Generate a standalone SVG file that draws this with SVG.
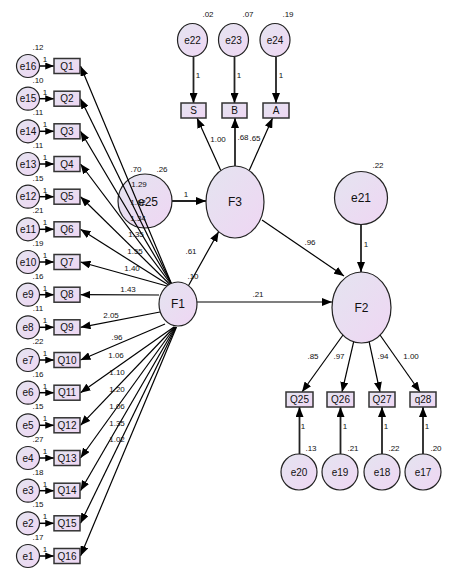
<svg xmlns="http://www.w3.org/2000/svg" width="458" height="577" viewBox="0 0 458 577">
<defs>
<linearGradient id="g" x1="0" y1="0" x2="1" y2="1">
<stop offset="0" stop-color="#e4e4f0"/>
<stop offset="1" stop-color="#efd6f3"/>
</linearGradient>
<marker id="ah" viewBox="0 0 10 8" refX="10" refY="4" markerWidth="10" markerHeight="8" markerUnits="userSpaceOnUse" orient="auto">
<path d="M0,0 L10,4 L0,8 z" fill="#000"/>
</marker>
<marker id="as" viewBox="0 0 10 8" refX="10" refY="4" markerWidth="9" markerHeight="7" markerUnits="userSpaceOnUse" orient="auto">
<path d="M0,0 L10,4 L0,8 z" fill="#000"/>
</marker>
</defs>
<style>
.n{fill:url(#g);stroke:#222;stroke-width:1.2}
.b{fill:url(#g);stroke:#333;stroke-width:1.5}
.t{font-family:"Liberation Sans",Arial,sans-serif;font-size:10px;fill:#111;text-anchor:middle}
.tf{font-family:"Liberation Sans",Arial,sans-serif;font-size:12px;fill:#111;text-anchor:middle}
.l{font-family:"Liberation Sans",Arial,sans-serif;font-size:8px;fill:#111;text-anchor:middle}
.c{fill:none;stroke:#000;stroke-width:1.2;marker-end:url(#ah)}
.ct{fill:none;stroke:#222;stroke-width:1.8;marker-end:url(#ah)}
.cs{fill:none;stroke:#000;stroke-width:1.5;marker-end:url(#as)}
</style>
<rect x="0" y="0" width="458" height="577" fill="#fff"/>

<g id="e25"><circle class="n" cx="145" cy="201" r="27"/><text class="tf" x="148" y="206">e25</text></g>

<g id="connectors">
<path class="c" d="M172,285 L80.5,66"/>
<path class="c" d="M172,285 L80.5,98.7"/>
<path class="c" d="M172,285 L80.5,131.3"/>
<path class="c" d="M172,285.5 L80.5,164"/>
<path class="c" d="M171.5,286 L80.5,196.7"/>
<path class="c" d="M171,286.5 L80.5,229.3"/>
<path class="c" d="M170.5,287 L80.5,262"/>
<path class="c" d="M159,295 L80.5,294.7"/>
<path class="c" d="M160,312 L80.5,327.3"/>
<path class="c" d="M165,324 L80.5,360"/>
<path class="c" d="M174,327 L80.5,392.7"/>
<path class="c" d="M174.5,327 L80.5,425.3"/>
<path class="c" d="M175,327 L80.5,458"/>
<path class="c" d="M175.5,327 L80.5,490.7"/>
<path class="c" d="M176,327 L80.5,523.3"/>
<path class="c" d="M176.5,327 L80.5,556"/>
<path class="cs" d="M39.5,66 L54,66"/>
<path class="cs" d="M39.5,98.7 L54,98.7"/>
<path class="cs" d="M39.5,131.3 L54,131.3"/>
<path class="cs" d="M39.5,164 L54,164"/>
<path class="cs" d="M39.5,196.7 L54,196.7"/>
<path class="cs" d="M39.5,229.3 L54,229.3"/>
<path class="cs" d="M39.5,262 L54,262"/>
<path class="cs" d="M39.5,294.7 L54,294.7"/>
<path class="cs" d="M39.5,327.3 L54,327.3"/>
<path class="cs" d="M39.5,360 L54,360"/>
<path class="cs" d="M39.5,392.7 L54,392.7"/>
<path class="cs" d="M39.5,425.3 L54,425.3"/>
<path class="cs" d="M39.5,458 L54,458"/>
<path class="cs" d="M39.5,490.7 L54,490.7"/>
<path class="cs" d="M39.5,523.3 L54,523.3"/>
<path class="cs" d="M39.5,556 L54,556"/>
<path class="ct" d="M172,201 L206,201"/>
<path class="c" d="M188,286.5 L218.6,231.7"/>
<path class="c" d="M220.8,170.6 L197,118"/>
<path class="ct" d="M235,166 L235,118"/>
<path class="c" d="M249.2,170.6 L272.6,118"/>
<path class="ct" d="M193.5,57 L193.5,103"/>
<path class="ct" d="M234.5,57 L234.5,103"/>
<path class="ct" d="M276,57 L276,103"/>
<path class="c" d="M262,220 L344,276"/>
<path class="c" d="M197,302 L332,302"/>
<path class="ct" d="M361,225 L361,272"/>
<path class="c" d="M343,335 L302,392"/>
<path class="c" d="M353.7,341.7 L342,392"/>
<path class="c" d="M369.1,341.7 L380,392"/>
<path class="c" d="M380,335 L420,392"/>
<path class="ct" d="M299.5,454 L299.5,407"/>
<path class="ct" d="M340.5,454 L340.5,407"/>
<path class="ct" d="M382,454 L382,407"/>
<path class="ct" d="M423,454 L423,407"/>
</g>

<g id="F1"><ellipse class="n" cx="178" cy="304" rx="19" ry="22"/><text class="tf" x="178" y="308">F1</text></g>
<g id="F3"><ellipse class="n" cx="235" cy="202" rx="29" ry="36"/><text class="tf" x="235" y="206">F3</text></g>
<g id="F2"><ellipse class="n" cx="361.5" cy="307.5" rx="29.5" ry="35.5"/><text class="tf" x="361.5" y="312">F2</text></g>
<g id="e21"><circle class="n" cx="361" cy="198" r="26.5"/><text class="tf" x="361" y="202">e21</text></g>
<g id="e22"><ellipse class="n" cx="192.5" cy="40" rx="15" ry="16.5"/><text class="t" x="192.5" y="44">e22</text></g>
<g id="e23"><ellipse class="n" cx="233.5" cy="40" rx="15" ry="16.5"/><text class="t" x="233.5" y="44">e23</text></g>
<g id="e24"><ellipse class="n" cx="275" cy="40" rx="15" ry="16.5"/><text class="t" x="275" y="44">e24</text></g>
<g id="S"><rect class="b" x="181" y="103" width="25" height="15"/><text class="t" x="193.5" y="114">S</text></g>
<g id="B"><rect class="b" x="222" y="103" width="25" height="15"/><text class="t" x="234.5" y="114">B</text></g>
<g id="A"><rect class="b" x="263" y="103" width="26" height="15"/><text class="t" x="276" y="114">A</text></g>
<g id="Q25"><rect class="b" x="286" y="392" width="27" height="15"/><text class="t" x="299.5" y="403">Q25</text></g>
<g id="Q26"><rect class="b" x="327" y="392" width="27" height="15"/><text class="t" x="340.5" y="403">Q26</text></g>
<g id="Q27"><rect class="b" x="369" y="392" width="26" height="15"/><text class="t" x="382" y="403">Q27</text></g>
<g id="q28"><rect class="b" x="410" y="392" width="26" height="15"/><text class="t" x="423" y="403">q28</text></g>
<g id="e20"><circle class="n" cx="299" cy="472" r="18"/><text class="t" x="299" y="476">e20</text></g>
<g id="e19"><circle class="n" cx="340" cy="472" r="18"/><text class="t" x="340" y="476">e19</text></g>
<g id="e18"><circle class="n" cx="382" cy="472" r="18"/><text class="t" x="382" y="476">e18</text></g>
<g id="e17"><circle class="n" cx="423" cy="472" r="18"/><text class="t" x="423" y="476">e17</text></g>

<g id="Q1"><rect class="b" x="54" y="58.5" width="26" height="15"/><text class="t" x="67" y="69.5">Q1</text></g>
<g id="Q2"><rect class="b" x="54" y="91.2" width="26" height="15"/><text class="t" x="67" y="102.2">Q2</text></g>
<g id="Q3"><rect class="b" x="54" y="123.8" width="26" height="15"/><text class="t" x="67" y="134.8">Q3</text></g>
<g id="Q4"><rect class="b" x="54" y="156.5" width="26" height="15"/><text class="t" x="67" y="167.5">Q4</text></g>
<g id="Q5"><rect class="b" x="54" y="189.2" width="26" height="15"/><text class="t" x="67" y="200.2">Q5</text></g>
<g id="Q6"><rect class="b" x="54" y="221.8" width="26" height="15"/><text class="t" x="67" y="232.8">Q6</text></g>
<g id="Q7"><rect class="b" x="54" y="254.5" width="26" height="15"/><text class="t" x="67" y="265.5">Q7</text></g>
<g id="Q8"><rect class="b" x="54" y="287.2" width="26" height="15"/><text class="t" x="67" y="298.2">Q8</text></g>
<g id="Q9"><rect class="b" x="54" y="319.8" width="26" height="15"/><text class="t" x="67" y="330.8">Q9</text></g>
<g id="Q10"><rect class="b" x="54" y="352.5" width="26" height="15"/><text class="t" x="67" y="363.5">Q10</text></g>
<g id="Q11"><rect class="b" x="54" y="385.2" width="26" height="15"/><text class="t" x="67" y="396.2">Q11</text></g>
<g id="Q12"><rect class="b" x="54" y="417.8" width="26" height="15"/><text class="t" x="67" y="428.8">Q12</text></g>
<g id="Q13"><rect class="b" x="54" y="450.5" width="26" height="15"/><text class="t" x="67" y="461.5">Q13</text></g>
<g id="Q14"><rect class="b" x="54" y="483.2" width="26" height="15"/><text class="t" x="67" y="494.2">Q14</text></g>
<g id="Q15"><rect class="b" x="54" y="515.8" width="26" height="15"/><text class="t" x="67" y="526.8">Q15</text></g>
<g id="Q16"><rect class="b" x="54" y="548.5" width="26" height="15"/><text class="t" x="67" y="559.5">Q16</text></g>

<g id="e16"><circle class="n" cx="28" cy="66" r="11.5"/><text class="t" x="28" y="69.5">e16</text></g>
<g id="e15"><circle class="n" cx="28" cy="98.7" r="11.5"/><text class="t" x="28" y="102.2">e15</text></g>
<g id="e14"><circle class="n" cx="28" cy="131.3" r="11.5"/><text class="t" x="28" y="134.8">e14</text></g>
<g id="e13"><circle class="n" cx="28" cy="164" r="11.5"/><text class="t" x="28" y="167.5">e13</text></g>
<g id="e12"><circle class="n" cx="28" cy="196.7" r="11.5"/><text class="t" x="28" y="200.2">e12</text></g>
<g id="e11"><circle class="n" cx="28" cy="229.3" r="11.5"/><text class="t" x="28" y="232.8">e11</text></g>
<g id="e10"><circle class="n" cx="28" cy="262" r="11.5"/><text class="t" x="28" y="265.5">e10</text></g>
<g id="e9"><circle class="n" cx="28" cy="294.7" r="11.5"/><text class="t" x="28" y="298.2">e9</text></g>
<g id="e8"><circle class="n" cx="28" cy="327.3" r="11.5"/><text class="t" x="28" y="330.8">e8</text></g>
<g id="e7"><circle class="n" cx="28" cy="360" r="11.5"/><text class="t" x="28" y="363.5">e7</text></g>
<g id="e6"><circle class="n" cx="28" cy="392.7" r="11.5"/><text class="t" x="28" y="396.2">e6</text></g>
<g id="e5"><circle class="n" cx="28" cy="425.3" r="11.5"/><text class="t" x="28" y="428.8">e5</text></g>
<g id="e4"><circle class="n" cx="28" cy="458" r="11.5"/><text class="t" x="28" y="461.5">e4</text></g>
<g id="e3"><circle class="n" cx="28" cy="490.7" r="11.5"/><text class="t" x="28" y="494.2">e3</text></g>
<g id="e2"><circle class="n" cx="28" cy="523.3" r="11.5"/><text class="t" x="28" y="526.8">e2</text></g>
<g id="e1"><circle class="n" cx="28" cy="556" r="11.5"/><text class="t" x="28" y="559.5">e1</text></g>

<g id="labels">
<text class="l" x="38" y="50">.12</text><text class="l" x="45" y="62">1</text>
<text class="l" x="38" y="82.7">.10</text><text class="l" x="45" y="94.7">1</text>
<text class="l" x="38" y="115.3">.11</text><text class="l" x="45" y="127.3">1</text>
<text class="l" x="38" y="148">.11</text><text class="l" x="45" y="160">1</text>
<text class="l" x="38" y="180.7">.15</text><text class="l" x="45" y="192.7">1</text>
<text class="l" x="38" y="213.3">.21</text><text class="l" x="45" y="225.3">1</text>
<text class="l" x="38" y="246">.19</text><text class="l" x="45" y="258">1</text>
<text class="l" x="38" y="278.7">.16</text><text class="l" x="45" y="290.7">1</text>
<text class="l" x="38" y="311.3">.11</text><text class="l" x="45" y="323.3">1</text>
<text class="l" x="38" y="344">.22</text><text class="l" x="45" y="356">1</text>
<text class="l" x="38" y="376.7">.16</text><text class="l" x="45" y="388.7">1</text>
<text class="l" x="38" y="409.3">.15</text><text class="l" x="45" y="421.3">1</text>
<text class="l" x="38" y="442">.27</text><text class="l" x="45" y="454">1</text>
<text class="l" x="38" y="474.7">.18</text><text class="l" x="45" y="486.7">1</text>
<text class="l" x="38" y="507.3">.15</text><text class="l" x="45" y="519.3">1</text>
<text class="l" x="38" y="540">.17</text><text class="l" x="45" y="552">1</text>
<text class="l" x="136" y="172">.70</text>
<text class="l" x="162" y="172">.26</text>
<text class="l" x="139" y="187">1.29</text>
<text class="l" x="138" y="205">1.62</text>
<text class="l" x="138" y="221">1.34</text>
<text class="l" x="136" y="237">1.35</text>
<text class="l" x="135" y="254">1.55</text>
<text class="l" x="132" y="271">1.40</text>
<text class="l" x="128" y="292">1.43</text>
<text class="l" x="111" y="318">2.05</text>
<text class="l" x="117" y="340">.96</text>
<text class="l" x="116" y="358">1.06</text>
<text class="l" x="117" y="375">1.10</text>
<text class="l" x="117" y="392">1.20</text>
<text class="l" x="117" y="409">1.06</text>
<text class="l" x="117" y="426">1.35</text>
<text class="l" x="117" y="442">1.02</text>
<text class="l" x="208" y="17">.02</text>
<text class="l" x="248" y="17">.07</text>
<text class="l" x="288" y="17">.19</text>
<text class="l" x="198" y="78">1</text>
<text class="l" x="239" y="78">1</text>
<text class="l" x="281" y="78">1</text>
<text class="l" x="218" y="142">1.00</text>
<text class="l" x="243" y="140">.68</text>
<text class="l" x="255" y="141">.65</text>
<text class="l" x="186" y="197">1</text>
<text class="l" x="191" y="254">.61</text>
<text class="l" x="193" y="279">.10</text>
<text class="l" x="258" y="297">.21</text>
<text class="l" x="310" y="245">.96</text>
<text class="l" x="378" y="168">.22</text>
<text class="l" x="366" y="247">1</text>
<text class="l" x="313" y="359">.85</text>
<text class="l" x="339" y="359">.97</text>
<text class="l" x="383" y="359">.94</text>
<text class="l" x="411" y="359">1.00</text>
<text class="l" x="303" y="429">1</text>
<text class="l" x="345" y="429">1</text>
<text class="l" x="386" y="429">1</text>
<text class="l" x="427" y="429">1</text>
<text class="l" x="311" y="451">.13</text>
<text class="l" x="353" y="451">.21</text>
<text class="l" x="394" y="451">.22</text>
<text class="l" x="436" y="451">.20</text>
</g>
</svg>
